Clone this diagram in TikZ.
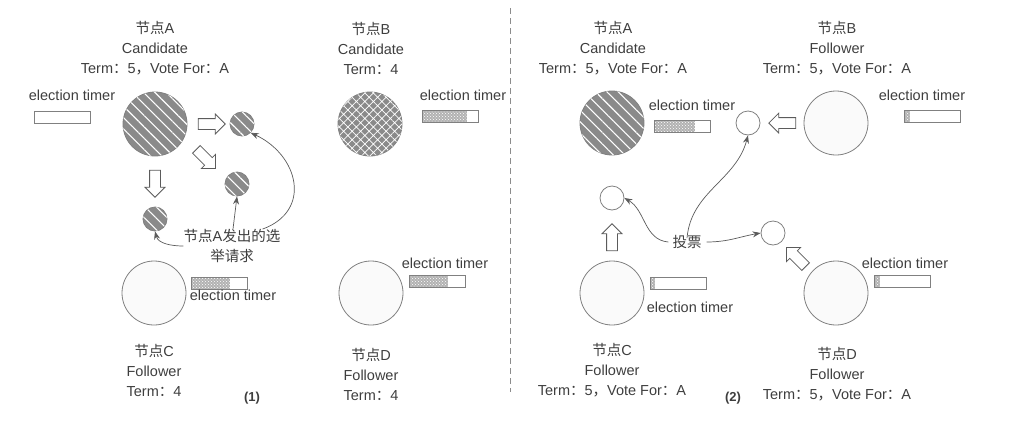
\documentclass[tikz,border=0pt]{standalone}
\usepackage{fontspec}
\setmainfont{Liberation Sans}
\newfontfamily\cjk{Noto Sans CJK SC}
\usetikzlibrary{arrows.meta,shapes.arrows,patterns,patterns.meta}
\definecolor{inkgray}{RGB}{62,62,62}
\definecolor{rimgray}{RGB}{128,128,128}
\definecolor{stripegray}{RGB}{138,138,138}
\newcommand{\zh}[1]{{\cjk #1}}
\newcommand{\termvote}{Term\zh{：}5\zh{，}Vote For\zh{：}A}

\begin{document}
\begin{tikzpicture}[x=1pt,y=-1pt,
  font=\fontsize{14.5}{20}\selectfont,text=inkgray,
  lbl/.style={align=center,inner sep=0pt},
  big/.style={circle,draw=rimgray,line width=0.8pt,minimum size=64pt,inner sep=0pt},
  small/.style={circle,draw=rimgray,line width=0.8pt,minimum size=24pt,inner sep=0pt},
  plain/.style={fill=black!2},
  hatched/.style={fill=stripegray,postaction={pattern={Lines[angle=-45,distance=8pt,line width=1.1pt]},pattern color=white}},
  crossed/.style={fill=stripegray,postaction={pattern={Hatch[angle=45,distance=6pt,line width=0.7pt]},pattern color=white}},
  timer/.style={draw=rimgray,line width=0.7pt,minimum width=56pt,minimum height=12pt,inner sep=0pt,fill=white,
    path picture={\fill[black!30,postaction={pattern=crosshatch dots,pattern color=white}]
      (path picture bounding box.south west) rectangle ([xshift=#1]path picture bounding box.north west);}},
  hollow/.style={single arrow,draw=inkgray!85,fill=white,line width=0.8pt,minimum height=27pt,minimum width=19pt,
    single arrow head extend=4.5pt,inner sep=5pt},
  conn/.style={-{Stealth[length=8pt,width=6pt]},line width=0.7pt,draw=inkgray!85},
  divider/.style={dashed,dash pattern=on 6pt off 4pt,line width=0.7pt,draw=black!45},
  tag/.style={font=\fontsize{13}{15}\selectfont\bfseries,inner sep=0pt}
]
\useasboundingbox (0,0) rectangle (1025,424);
% ---------------- panel (1): A asks for votes ----------------
\node[lbl] (a1lbl) at (155,48) {\zh{节点}A\\Candidate\\\termvote};
\node[big,hatched] (a1) at (155,124) {};
\node[lbl] (a1tl) at (72,95) {election timer};
\node[timer=0pt] (a1t) at (62.5,117.5) {};
\node[lbl] (b1lbl) at (371,48) {\zh{节点}B\\Candidate\\Term\zh{：}4};
\node[big,crossed] (b1) at (370,124) {};
\node[lbl] (b1tl) at (463,95) {election timer};
\node[timer=44pt] (b1t) at (450.5,116) {};
\node[big,plain] (c1) at (154,293) {};
\node[timer=39pt] (c1t) at (219,283.5) {};
\node[lbl] (c1tl) at (233,295) {election timer};
\node[lbl] (c1lbl) at (154,370) {\zh{节点}C\\Follower\\Term\zh{：}4};
\node[big,plain] (d1) at (371,293) {};
\node[lbl] (d1tl) at (445,263) {election timer};
\node[timer=39pt] (d1t) at (437,281) {};
\node[lbl] (d1lbl) at (371,374) {\zh{节点}D\\Follower\\Term\zh{：}4};
% requests sent out by A
\node[hollow] (h1) at (209,124) {};
\node[hollow,rotate=-45] (h2) at (204,157) {};
\node[hollow,rotate=-90] (h3) at (155,181) {};
\node[small,hatched] (s1) at (242,124) {};
\node[small,hatched] (s2) at (237,184) {};
\node[small,hatched] (s3) at (155,219) {};
\node[lbl] (req) at (232,246) {\zh{节点}A\zh{发出的选}\\\zh{举请求}};
\draw[conn] (req.west) to[out=180,in=-75] (s3.south);
\draw[conn] ([xshift=1pt]req.north) -- (s2.south);
\draw[conn] ([xshift=-18pt]req.north east) to[out=20,in=-25,looseness=1.4] (s1.south east);
\node[tag] (one) at (252,398) {(1)};
% ---------------- divider ----------------
\coordinate (top) at (510,8);
\coordinate (bot) at (510,392);
\draw[divider] (top) -- (bot);
% ---------------- panel (2): B, C, D vote for A ----------------
\node[lbl] (a2lbl) at (613,48) {\zh{节点}A\\Candidate\\\termvote};
\node[big,hatched] (a2) at (612,123) {};
\node[lbl] (a2tl) at (692,105) {election timer};
\node[timer=41pt] (a2t) at (682,126.5) {};
\node[lbl] (b2lbl) at (837,48) {\zh{节点}B\\Follower\\\termvote};
\node[big,plain] (b2) at (836,123) {};
\node[lbl] (b2tl) at (922,95) {election timer};
\node[timer=6pt] (b2t) at (932,116.5) {};
\node[big,plain] (c2) at (612,293) {};
\node[timer=5pt] (c2t) at (678,283.5) {};
\node[lbl] (c2tl) at (690,307) {election timer};
\node[lbl] (c2lbl) at (612,370) {\zh{节点}C\\Follower\\\termvote};
\node[big,plain] (d2) at (836,293) {};
\node[lbl] (d2tl) at (905,263) {election timer};
\node[timer=5pt] (d2t) at (902.5,281) {};
\node[lbl] (d2lbl) at (837,374) {\zh{节点}D\\Follower\\\termvote};
% votes sent back to A
\node[hollow,rotate=180] (h4) at (785,123) {};
\node[hollow,rotate=90] (h5) at (612,240) {};
\node[hollow,rotate=135] (h6) at (798,259) {};
\node[small,fill=white] (t1) at (748,123) {};
\node[small,fill=white] (t2) at (612,198) {};
\node[small,fill=white] (t3) at (773,233) {};
\node[lbl] (vote) at (687,242) {\zh{投票}};
\draw[conn] ([xshift=-4pt]vote.west) to[out=175,in=-30] (t2.east);
\draw[conn] ([yshift=-3pt]vote.north) to[out=85,in=-105] (t1.south);
\draw[conn] ([xshift=5pt]vote.east) to[out=0,in=190] (t3.west);
\node[tag] (two) at (733,398) {(2)};
\end{tikzpicture}
\end{document}
